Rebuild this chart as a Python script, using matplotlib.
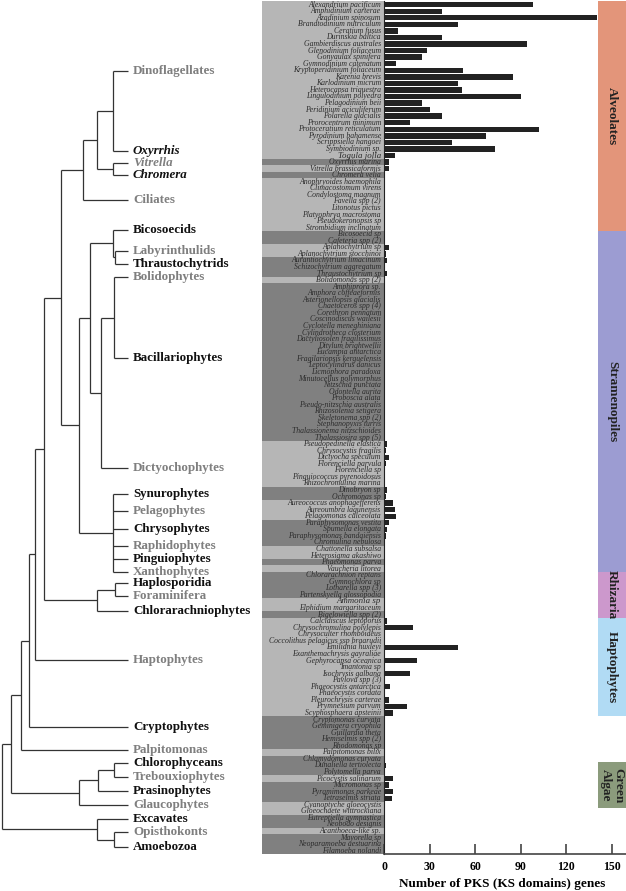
import matplotlib.pyplot as plt

plt.rcParams['font.family'] = ['Liberation Serif', 'DejaVu Serif']

species = [
    "Alexandrium pacificum", "Amphidinium carterae", "Azadinium spinosum", "Brandtodinium nutriculum",
    "Ceratium fusus", "Durinskia baltica", "Gambierdiscus australes", "Glenodinium foliaceum",
    "Gonyaulax spinifera", "Gymnodinium catenatum", "Kryptoperidinium foliaceum", "Karenia brevis",
    "Karlodinium micrum", "Heterocapsa triquestra", "Lingulodinium polyedra", "Pelagodinium beii",
    "Peridinium aciculiferum", "Polarella glacialis", "Prorocentrum minimum", "Protoceratium reticulatum",
    "Pyrodinium bahamense", "Scrippsiella hangoei", "Symbiodinium sp.", "Togula jolla",
    "Oxyrrhis marina", "Vitrella brassicaformis", "Chromera velia",
    "Anophryoides haemophila", "Climacostomum virens", "Condylostoma magnum", "Favella spp (2)",
    "Litonotus pictus", "Platyophrya macrostoma", "Pseudokeronopsis sp", "Strombidium inclinatum",
    "Bicosoecid sp", "Cafeteria spp (2)",
    "Aplanochytrium sp", "Aplanochytrium stocchinoi",
    "Aurantiochytrium limacinum", "Schizochytrium aggregatum", "Thraustochytrium sp",
    "Bolidomonas spp (2)",
    "Amphiprora sp.", "Amphora coffeaeformis", "Asterionellopsis glacialis", "Chaetoceros spp (4)",
    "Corethron pennatum", "Coscinodiscus wailesii", "Cyclotella meneghiniana", "Cylindrotheca closterium",
    "Dactyliosolen fragilissimus", "Ditylum brightwellii", "Eucampia antarctica", "Fragilariopsis kerguelensis",
    "Leptocylindrus danicus", "Licmophora paradoxa", "Minutocellus polymorphus", "Nitzschia punctata",
    "Odontella aurita", "Proboscia alata", "Pseudo-nitzschia australis", "Rhizosolenia setigera",
    "Skeletonema spp (2)", "Stephanopyxis turris", "Thalassionema nitzschioides", "Thalassiosira spp (5)",
    "Pseudopedinella elastica", "Chrysocystis fragilis", "Dictyocha speculum", "Florenciella parvula",
    "Florenciella sp", "Pinguiococcus pyrenoidosus", "Rhizochromulina marina",
    "Dinobryon sp", "Ochromonas sp",
    "Aureococcus anophagefferens", "Aureoumbra lagunensis", "Pelagomonas calceolata",
    "Paraphysomonas vestita", "Spumella elongata", "Paraphysomonas bandaiensis", "Chromulina nebulosa",
    "Chattonella subsalsa", "Heterosigma akashiwo", "Phaeomonas parva", "Vaucheria litorea",
    "Chlorarachnion reptans", "Gymnochlora sp", "Lotharella spp (3)", "Partenskyella glossopodia",
    "Ammonia sp", "Elphidium margaritaceum", "Bigelowiella spp (2)",
    "Calcidiscus leptoporus", "Chrysochromulina polylepis", "Chrysoculter rhomboideus",
    "Coccolithus pelagicus ssp braarudii", "Emiliania huxleyi", "Exanthemachrysis gayraliae",
    "Gephyrocapsa oceanica", "Imantonia sp", "Isochrysis galbana", "Pavlova spp (3)",
    "Phaeocystis antarctica", "Phaeocystis cordata", "Pleurochrysis carterae", "Prymnesium parvum",
    "Scyphosphaera apsteinii",
    "Cryptomonas curvata", "Geminigera cryophila", "Guillardia theta", "Hemiselmis spp (2)", "Rhodomonas sp",
    "Palpitomonas bilix",
    "Chlamydomonas curvata", "Dunaliella tertiolecta", "Polytomella parva", "Picocystis salinarum",
    "Micromonas sp", "Pyramimonas parkeae", "Tetraselmis striata",
    "Cyanoptyche gloeocystis", "Gloeochaete wittrockiana", "Eutreptiella gymnastica", "Neobodo designis",
    "Acanthoeca-like sp.", "Mayorella sp", "Neoparamoeba aestuarina", "Filamoeba nolandi",
]

ks_genes = [
    98, 38, 140, 49, 9, 38, 94, 28, 25, 8, 52, 85,
    49, 51, 90, 25, 30, 38, 17, 102, 67, 45, 73, 7,
    3, 3, 0,
    0, 0, 0, 0, 0, 0, 0, 0,
    0, 0,
    3, 1,
    2, 0, 2,
    0,
    0, 0, 0, 0, 0, 0, 0, 0, 0, 0, 0, 0,
    0, 0, 0, 0, 0, 0, 0, 0, 0, 0, 0, 0,
    2, 1, 3, 1, 0, 0, 0,
    2, 1,
    6, 7, 8,
    3, 2, 1, 0,
    0, 0, 0, 0,
    0, 0, 0, 0,
    0, 0, 0,
    2, 19, 0, 0, 49, 0, 22, 0, 17, 0, 4, 0, 3, 15, 6,
    0, 0, 0, 0, 0,
    0,
    0, 1, 0, 6,
    3, 6, 5,
    0, 0, 0, 0,
    0, 0, 0, 0,
]
big_names = ["Togula jolla", "Ammonia sp"]

clades = ["Dinoflagellates", "Oxyrrhis", "Vitrella", "Chromera", "Ciliates", "Bicosoecids",
          "Labyrinthulids", "Thraustochytrids", "Bolidophytes", "Bacillariophytes", "Dictyochophytes",
          "Synurophytes", "Pelagophytes", "Chrysophytes", "Raphidophytes", "Pinguiophytes",
          "Xanthophytes", "Haplosporidia", "Foraminifera", "Chlorarachniophytes", "Haptophytes",
          "Cryptophytes", "Palpitomonas", "Chlorophyceans", "Trebouxiophytes", "Prasinophytes",
          "Glaucophytes", "Excavates", "Opisthokonts", "Amoebozoa"]
clade_sizes = [24, 1, 1, 1, 8, 2, 2, 3, 1, 24, 7, 2, 3, 4, 2, 1, 1, 4, 2, 1, 15, 5, 1, 3, 1, 3, 2, 2, 1, 3]
# row position of each clade tip in the tree (in species-row units)
clade_tip_rows = [11.1, 23.3, 25.2, 27.0, 30.8, 35.3, 38.5, 40.5, 42.5, 54.9, 71.6,
                  75.6, 78.2, 81.0, 83.6, 85.5, 87.5, 89.2, 91.2, 93.4, 100.9,
                  111.1, 114.6, 116.6, 118.7, 120.9, 123.1, 125.2, 127.2, 129.4]
italic_clades = ["Oxyrrhis", "Vitrella", "Chromera"]

# tree: (node depth, children...), leaves are clade names
tree = (2,
        (11,
         (21,
          (29,
           (35,
            (44,
             (61,
              (83, (97, (113, "Dinoflagellates", "Oxyrrhis"), (113, "Vitrella", "Chromera")), "Ciliates"),
              (79,
               (90, (113, "Bicosoecids", (115, "Labyrinthulids", "Thraustochytrids")),
                (101, (114, "Bolidophytes", "Bacillariophytes"), "Dictyochophytes")),
               (113, "Synurophytes", "Pelagophytes", "Chrysophytes", "Raphidophytes",
                "Pinguiophytes", "Xanthophytes"))),
             (97, (115, "Haplosporidia", "Foraminifera"), "Chlorarachniophytes")),
            "Haptophytes"),
           "Cryptophytes"),
          "Palpitomonas"),
         (79, (98, (114, "Chlorophyceans", "Trebouxiophytes"), "Prasinophytes"), "Glaucophytes")),
        (97, "Excavates", (114, "Opisthokonts", "Amoebozoa")))
tip_x = 128

supergroups = ["Alveolates", "Stramenopiles", "Rhizaria", "Haptophytes", "Green\nAlgae"]
supergroup_rows = [(1, 35), (36, 87), (88, 94), (95, 109), (117, 123)]
supergroup_colors = ["#e3957a", "#9c9cd2", "#cc98cc", "#b1dbf4", "#8b9b7c"]

light_band, dark_band = "#b6b6b6", "#808080"
grey_txt, black_txt = "#7f7f7f", "#111111"

n = len(species)
rows = list(range(1, n + 1))

W, H = 626, 891
fig = plt.figure(figsize=(W / 100, H / 100), dpi=100)
top_px, bot_px = 1.4, 854


def px_axes(x0, x1):
    return fig.add_axes([x0 / W, 1 - bot_px / H, (x1 - x0) / W, (bot_px - top_px) / H])


# row shading alternates per clade
band_colors = []
for i, s in enumerate(clade_sizes):
    band_colors += [light_band if i % 2 == 0 else dark_band] * s
label_y = dict(zip(clades, clade_tip_rows))

# species names panel
ax_names = px_axes(262, 384)
ax_names.barh(rows, [1] * n, left=0, height=1.0, color=band_colors, linewidth=0)
for r, name in zip(rows, species):
    ax_names.text(0.975, r, name, ha='right', va='center',
                  fontsize=6.4 if name in big_names else 5.6,
                  style='italic', color='#2b2b2b')
ax_names.set_xlim(0, 1)
ax_names.set_ylim(n + 0.5, 0.5)
ax_names.axis('off')

# bars
ax = px_axes(384, 626)
ax.barh(rows, ks_genes, height=0.82, color='#222222')
ax.set_xlim(0, 242 / 1.52)
ax.set_ylim(n + 0.5, 0.5)
for s in ['top', 'right']:
    ax.spines[s].set_visible(False)
ax.spines['left'].set_color('#222222')
ax.spines['bottom'].set_color('#444444')
ax.spines['bottom'].set_linewidth(1.2)
ax.set_yticks([])
ax.set_xticks([0, 30, 60, 90, 120, 150])
ax.tick_params(axis='x', direction='in', length=7, width=1.2, color='#444444', pad=5)
for t in ax.get_xticklabels():
    t.set_fontweight('bold')
    t.set_fontsize(8.5)

# supergroup strips
ax_s = px_axes(598, 626)
for g, (r0, r1), col in zip(supergroups, supergroup_rows, supergroup_colors):
    ax_s.barh((r0 + r1) / 2, 1, left=0, height=r1 - r0 + 1, color=col, linewidth=0)
    ax_s.text(0.5, (r0 + r1) / 2, g, rotation=270, ha='center', va='center',
              fontsize=9.5, fontweight='bold', color='#222222', linespacing=1.0)
ax_s.set_xlim(0, 1)
ax_s.set_ylim(n + 0.5, 0.5)
ax_s.axis('off')

fig.text(502 / W, 1 - 884 / H, "Number of PKS (KS domains) genes", ha='center', va='center',
         fontsize=9.5, fontweight='bold')

# tree
ax_t = px_axes(0, 262)
ax_t.set_xlim(0, 262)
ax_t.set_ylim(n + 0.5, 0.5)
ax_t.axis('off')
line_kw = dict(color='#333333', lw=0.9, solid_capstyle='butt')


def draw(node):
    if isinstance(node, str):
        return tip_x, label_y[node]
    depth = node[0]
    pts = [draw(k) for k in node[1:]]
    ys = [p[1] for p in pts]
    for kx, ky in pts:
        ax_t.plot([depth, kx], [ky, ky], **line_kw)
    ax_t.plot([depth, depth], [min(ys), max(ys)], **line_kw)
    return depth, (min(ys) + max(ys)) / 2


draw(tree)
for i, c in enumerate(clades):
    ax_t.text(tip_x + 5, label_y[c], c, ha='left', va='center', fontsize=9.4, fontweight='bold',
              style='italic' if c in italic_clades else 'normal',
              color=grey_txt if i % 2 == 0 else black_txt)

fig.savefig('out.png', dpi=100)
